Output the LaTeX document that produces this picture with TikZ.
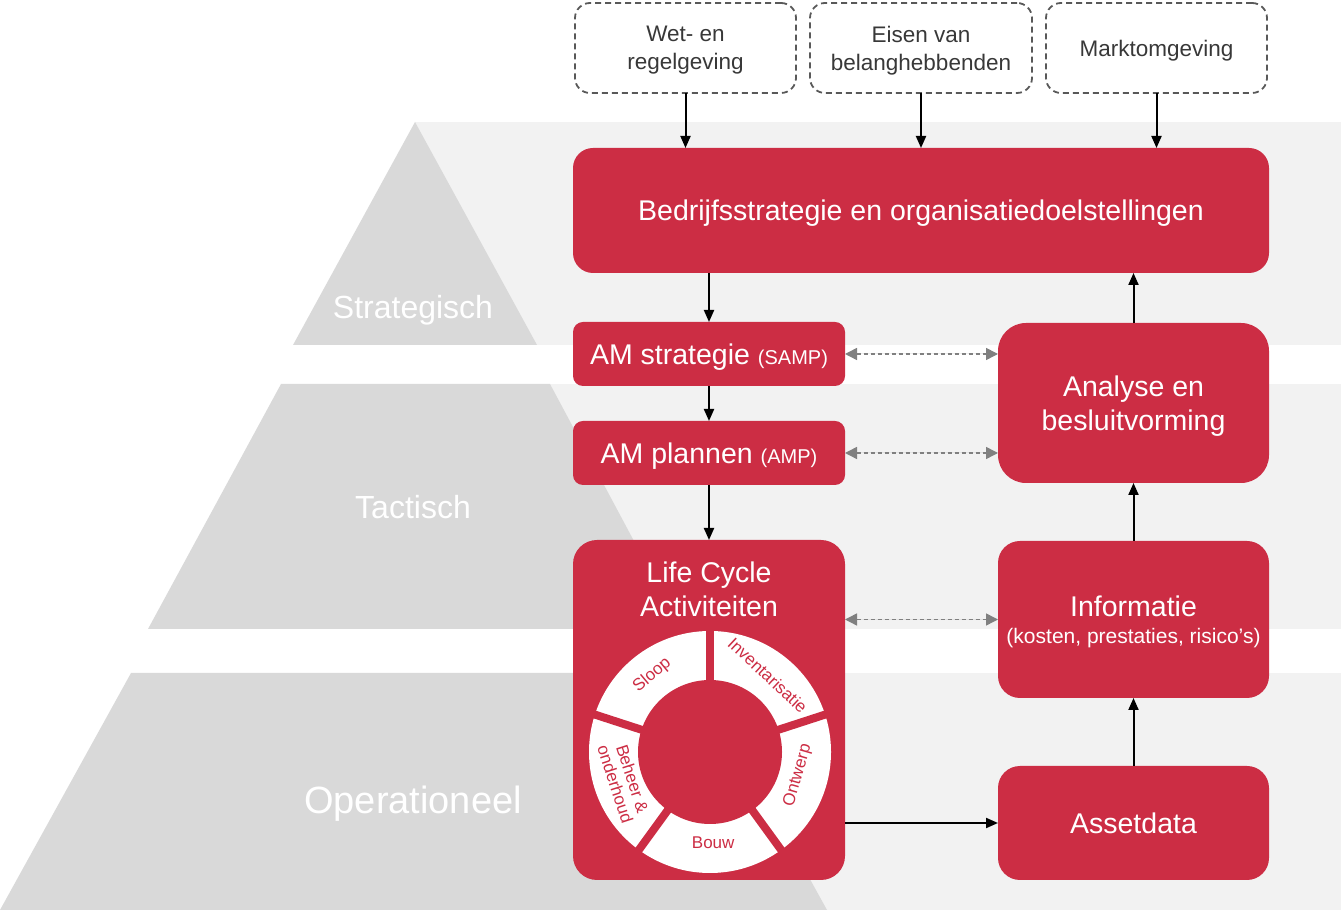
\documentclass[tikz,border=0pt]{standalone}
\usepackage{fontspec}
\setmainfont{Liberation Sans}
\usetikzlibrary{arrows.meta,calc}
\definecolor{amred}{RGB}{204,45,68}
\definecolor{bandgray}{RGB}{242,242,242}
\definecolor{pyrgray}{RGB}{217,217,217}
\definecolor{envline}{RGB}{89,89,89}
\definecolor{envtext}{RGB}{56,56,56}
\definecolor{arrgray}{RGB}{128,128,128}
\begin{document}
\begin{tikzpicture}[x=1pt,y=1pt,
  redbox/.style={fill=amred, rounded corners=#1, inner sep=0pt, outer sep=0pt, text=white, align=center, font=\fontsize{28.5}{34}\selectfont},
  redbox/.default=20pt,
  envbox/.style={draw=envline, line width=1.8pt, dash pattern=on 6pt off 4pt, rounded corners=15pt, minimum width=221pt, minimum height=90pt, inner sep=0pt, outer sep=0pt, text=envtext, align=center, font=\fontsize{22.5}{28}\selectfont},
  arr/.style={line width=2pt, -{Triangle[length=12pt,width=10pt]}},
  garr/.style={draw=arrgray, fill=arrgray, line width=1.5pt, dash pattern=on 4pt off 3pt, {Triangle[length=12pt,width=12pt]}-{Triangle[length=12pt,width=12pt]}},
  lvl/.style={text=white, inner sep=0pt, anchor=base},
  ringlbl/.style={text=amred, font=\fontsize{17}{18}\selectfont, inner sep=0pt, align=center},
  titletext/.style={text=white, inner sep=0pt, align=center, font=\fontsize{28.5}{34}\selectfont}
]
\useasboundingbox (0,0) rectangle (1341,910);
% background bands
\fill[bandgray] (415,565) rectangle (1341,788);
\fill[bandgray] (415,281) rectangle (1341,526);
\fill[bandgray] (415,0) rectangle (1341,237);
% pyramid
\fill[pyrgray] (415,788) -- (537,565) -- (293,565) -- cycle;
\fill[pyrgray] (281,526) -- (550,526) -- (681,281) -- (148,281) -- cycle;
\fill[pyrgray] (131,237) -- (696,237) -- (827,0) -- (0,0) -- cycle;
\node[lvl, font=\fontsize{32}{38}\selectfont] (strat) at (413,591.5) {Strategisch};
\node[lvl, font=\fontsize{32}{38}\selectfont] (tact) at (413,391.5) {Tactisch};
\node[lvl, font=\fontsize{38}{44}\selectfont] (oper) at (413,96.5) {Operationeel};
% environment boxes
\node[envbox, text depth=-7pt] (d1) at (685.5,862) {Wet- en\\regelgeving};
\node[envbox, minimum width=222pt, text depth=-6pt] (d2) at (921,862) {Eisen van\\belanghebbenden};
\node[envbox, text depth=-1.3pt] (d3) at (1156.5,862) {Marktomgeving};
% red boxes
\node[redbox=20pt, minimum width=696pt, minimum height=125pt, text depth=-8pt] (main) at (921,699.5) {Bedrijfsstrategie en organisatiedoelstellingen};
\node[redbox=10pt, minimum width=272pt, minimum height=64pt, text depth=-8pt] (ams) at (709,556) {AM strategie {\fontsize{20}{24}\selectfont(SAMP)}};
\node[redbox=10pt, minimum width=272pt, minimum height=64pt, text depth=-1pt] (amp) at (709,457) {AM plannen {\fontsize{20}{24}\selectfont(AMP)}};
\node[redbox=24pt, minimum width=272pt, minimum height=340pt] (lc) at (709,200) {};
\node[titletext] (lct) at (709,321) {Life Cycle\\Activiteiten};
\node[redbox=28pt, minimum width=271pt, minimum height=160pt, text depth=-2pt] (an) at (1133.5,507) {Analyse en\\besluitvorming};
\node[redbox=22pt, minimum width=271pt, minimum height=157pt, text depth=-5pt] (inf) at (1133.5,290.5) {Informatie\\[-7pt]{\fontsize{21}{25}\selectfont (kosten, prestaties, risico’s)}};
\node[redbox=22pt, minimum width=271pt, minimum height=114pt] (ad) at (1133.5,87) {Assetdata};
% ring
\coordinate (rc) at (710,158);
\fill[white] (rc) circle[radius=121pt];
\foreach \a in {90,18,-54,-126,162} \draw[amred, line width=8pt] (rc) -- ++(\a:126pt);
\fill[amred] (rc) circle[radius=72pt];
\node[ringlbl, rotate=40] (sloop) at ([shift={(127:96pt)}]rc) {Sloop};
\node[ringlbl, rotate=-43] (inv) at ([shift={(53:96pt)}]rc) {Inventarisatie};
\node[ringlbl, rotate=74] (ontw) at ([shift={(-15:91pt)}]rc) {Ontwerp};
\node[ringlbl, rotate=0] (bouw) at ([shift={(-88:91pt)}]rc) {Bouw};
\node[ringlbl, rotate=-72] (beh) at ([shift={(199:91pt)}]rc) {Beheer \&\\onderhoud};
% arrows
\draw[arr] (d1.south) -- (d1.south |- main.north);
\draw[arr] (d2.south) -- (main.north);
\draw[arr] (d3.south) -- (d3.south |- main.north);
\draw[arr] (ams.north |- main.south) -- (ams.north);
\draw[arr] (ams.south) -- (amp.north);
\draw[arr] (amp.south) -- (lc.north);
\draw[arr] (lc.east |- ad.west) -- (ad.west);
\draw[arr] (ad.north) -- (inf.south);
\draw[arr] (inf.north) -- (an.south);
\draw[arr] (an.north) -- (an.north |- main.south);
\draw[garr] (ams.east) -- (ams.east -| an.west);
\draw[garr] (amp.east) -- (amp.east -| an.west);
\draw[garr] (lc.east |- inf.west) -- (inf.west);
\end{tikzpicture}
\end{document}
